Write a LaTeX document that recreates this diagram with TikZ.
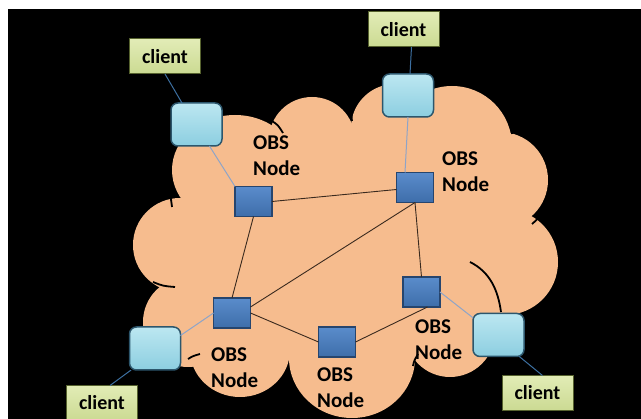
\documentclass[tikz,border=0pt]{standalone}
\usepackage{fontspec}
\setmainfont{Carlito}
\definecolor{cloudfill}{HTML}{F6BC8E}
\definecolor{sqtop}{HTML}{5A8CCB}
\definecolor{sqbot}{HTML}{3E6EAA}
\definecolor{sqdraw}{HTML}{26456E}
\definecolor{lbtop}{HTML}{BCE7F1}
\definecolor{lbbot}{HTML}{8CCEE0}
\definecolor{lbdraw}{HTML}{2C566C}
\definecolor{cltop}{HTML}{E2ECB6}
\definecolor{clbot}{HTML}{CBDA92}
\definecolor{cldraw}{HTML}{56622E}
\definecolor{darkline}{HTML}{3A2A1E}
\definecolor{greyline}{HTML}{8EA4C8}
\definecolor{blueline}{HTML}{3C6FA0}
\begin{document}
\begin{tikzpicture}[x=1pt,y=-1pt,
  obs/.style={draw=sqdraw,line width=1.2pt,top color=sqtop,bottom color=sqbot,
    minimum width=37pt,minimum height=30pt,inner sep=0pt,outer sep=0pt},
  lbox/.style={draw=lbdraw,line width=1.5pt,rounded corners=7pt,top color=lbtop,bottom color=lbbot,
    minimum width=51pt,minimum height=43pt,inner sep=0pt,outer sep=0pt},
  cbox/.style={draw=cldraw,line width=1pt,top color=cltop,bottom color=clbot,
    minimum width=71pt,minimum height=35pt,inner sep=0pt,outer sep=0pt,
    font=\fontsize{20}{24}\selectfont\bfseries},
  lab/.style={anchor=north west,inner sep=0pt,align=left,
    font=\fontsize{21}{25.5}\selectfont\bfseries},
  ss/.style={draw=darkline,line width=0.9pt},
  ls/.style={draw=greyline,line width=1pt},
  cl/.style={draw=blueline,line width=1pt},
  inarc/.style={draw=black,line width=1.8pt}]
\useasboundingbox (0,0) rectangle (641,419);
\fill[white] (0,0) rectangle (641,419);
\fill[black] (8,9) rectangle (641,419);
% cloud
\begin{scope}[cloudfill]
\fill (235,170) ellipse [x radius=63, y radius=55];
\fill (312,140) circle [radius=43];
\fill (395,128) circle [radius=44];
\fill (452,146) circle [radius=60];
\fill (500,180) circle [radius=48];
\fill (505,262) circle [radius=53];
\fill (450,332) circle [radius=45];
\fill (352,358) ellipse [x radius=63, y radius=60];
\fill (240,350) ellipse [x radius=50, y radius=47];
\fill (188,322) circle [radius=45];
\fill (180,245) circle [radius=47];
\fill (235,170) -- (312,140) -- (395,128) -- (452,146) -- (500,180) -- (505,262)
  -- (450,332) -- (352,358) -- (240,350) -- (188,322) -- (180,245) -- cycle;
\end{scope}
% inner arcs of the cloud
\draw[inarc] (170,194) .. controls (171,199) .. (172,207);
\draw[inarc] (272,121) .. controls (278,125) .. (283,133);
\draw[inarc] (351,112) .. controls (351,116) .. (352,121);
\draw[inarc] (510,124) .. controls (512,128) .. (512,134);
\draw[inarc] (532,224) .. controls (540,217) .. (547,203);
\draw[inarc] (470,262) .. controls (490,272) and (498,290) .. (501,312);
\draw[inarc] (413,366) .. controls (414,361) .. (418,354);
\draw[inarc] (288,374) .. controls (292,380) .. (295,391);
\draw[inarc] (188,359) .. controls (193,356) .. (200,354);
\draw[inarc] (153,282) .. controls (163,286) .. (175,287);
% nodes
\node[obs] (S1) at (253.5,201.5) {};
\node[obs] (S2) at (415,187.5) {};
\node[obs] (S3) at (232,313) {};
\node[obs] (S4) at (421.5,292) {};
\node[obs] (S5) at (337,342) {};
\node[lbox] (L1) at (196.5,124.5) {};
\node[lbox] (L2) at (408,95.5) {};
\node[lbox] (L3) at (155,348.5) {};
\node[lbox] (L4) at (498.5,335) {};
\node[cbox] (C1) at (165,56.5) {client};
\node[cbox] (C2) at (403.5,29.5) {client};
\node[cbox] (C3) at (102,403) {client};
\node[cbox] (C4) at (537.5,393) {client};
% connectors
\draw[cl] (C1.south) -- (L1.124);
\draw[ls] (L1.-59) -- (S1.north west);
\draw[cl] ([xshift=8pt]C2.south) -- ([xshift=2pt]L2.north);
\draw[ls] (L2.south) -- ([xshift=-10pt]S2.north);
\draw[ss] (S1.east) -- ([yshift=-2pt]S2.west);
\draw[ss] (S1.south) -- (S3.north);
\draw[ss] (S2.south) -- ([yshift=6pt]S3.east);
\draw[ss] (S2.south) -- (S4.north);
\draw[ss] (S3.east) -- (S5.west);
\draw[ss] (S5.east) -- ([xshift=6pt]S4.south);
\draw[ls] (S4.east) -- (L4.146);
\draw[ls] (S3.west) -- (L3.27);
\draw[cl] (L3.222) -- ([xshift=8pt]C3.north);
\draw[cl] (L4.-46) -- ([xshift=5pt]C4.north);
% labels
\node[lab] (T1) at (253,136) {OBS\\Node};
\node[lab] (T2) at (442,152) {OBS\\Node};
\node[lab] (T3) at (211,348) {OBS\\Node};
\node[lab] (T4) at (317,368) {OBS\\Node};
\node[lab] (T5) at (415,320) {OBS\\Node};
\end{tikzpicture}
\end{document}
